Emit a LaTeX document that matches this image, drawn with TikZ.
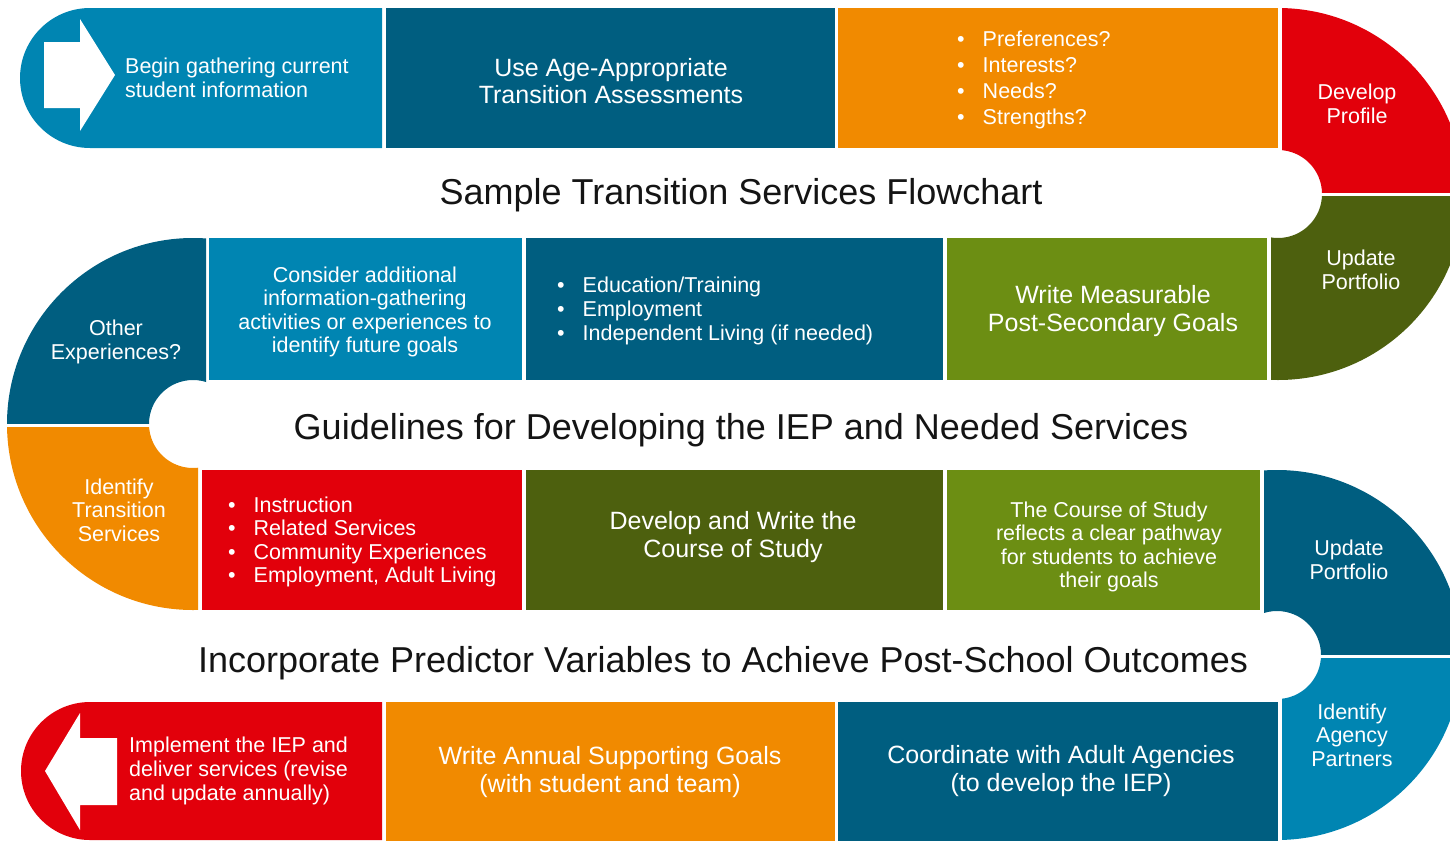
\documentclass[tikz,border=0pt]{standalone}
\usepackage{fontspec}
\setmainfont{Liberation Sans}

\definecolor{tealblue}{HTML}{0085B2}
\definecolor{navyblue}{HTML}{005E80}
\definecolor{tangerine}{HTML}{F18A00}
\definecolor{signalred}{HTML}{E2000B}
\definecolor{leafgreen}{HTML}{6C8E13}
\definecolor{olivegreen}{HTML}{4D600E}

\tikzset{
  boxtext/.style={text=white,align=center,inner sep=0pt,font=\fontsize{21.5}{23.6}\selectfont},
  bigtext/.style={boxtext,font=\fontsize{25}{27.5}\selectfont},
  listtext/.style={boxtext,align=left,anchor=west},
  heading/.style={text=black!92,inner sep=0pt,anchor=base,font=\fontsize{36}{40}\selectfont}
}

% bullet with its hanging gap
\newcommand{\bul}{\textbullet\hspace{18pt}}
% one quarter of a turning cap: colour, clip corners, centre, outer radius
\newcommand{\capquarter}[5]{%
  \begin{scope}
    \clip #2 rectangle #3;
    \fill[#1,even odd rule] #4 circle[radius=#5] #4 circle[radius=44pt];
  \end{scope}}

\begin{document}
\begin{tikzpicture}[x=1pt,y=-1pt]
\useasboundingbox (0,0) rectangle (1450,841);
\clip (0,0) rectangle (1450,841);

% first row, left to right
\fill[tealblue] (382,8) -- (90,8) arc[start angle=90,end angle=270,radius=70pt] -- (382,148) -- cycle;
\fill[navyblue] (386,8) rectangle (835,148);
\fill[tangerine] (838,8) rectangle (1278,148);
\capquarter{signalred}{(1282,0)}{(1450,192)}{(1278,194)}{186pt}
\capquarter{olivegreen}{(1271,196)}{(1450,400)}{(1278,194)}{186pt}

% second row
\capquarter{navyblue}{(0,230)}{(206,423)}{(193,424)}{186pt}
\fill[tealblue] (209,238) rectangle (522,380);
\fill[navyblue] (526,238) rectangle (943,380);
\fill[leafgreen] (947,238) rectangle (1267,380);

% third row
\capquarter{tangerine}{(0,427)}{(198,620)}{(193,424)}{186pt}
\fill[signalred] (202,470) rectangle (522,610);
\fill[olivegreen] (526,470) rectangle (943,610);
\fill[leafgreen] (947,470) rectangle (1260,610);
\capquarter{navyblue}{(1264,460)}{(1450,654)}{(1277,655)}{185pt}

% last row
\fill[signalred] (382,702) -- (90,702) arc[start angle=90,end angle=270,radius=69pt] -- (382,840) -- cycle;
\fill[tangerine] (386,702) rectangle (835,841);
\fill[navyblue] (838,702) rectangle (1278,841);
\capquarter{tealblue}{(1282,658)}{(1450,841)}{(1277,655)}{185pt}

% start and end arrows
\fill[white] (44,42) -- (80,42) -- (80,19) -- (115,75) -- (80,131) -- (80,108) -- (44,108) -- cycle;
\fill[white] (117,738) -- (80,738) -- (80,713) -- (45,771) -- (80,830) -- (80,805) -- (117,805) -- cycle;

% labels
\node[boxtext,align=left,anchor=west] (begin) at (125,78) {Begin gathering current\\student information};
\node[bigtext] (assess) at (611,81) {Use Age-Appropriate\\Transition Assessments};
\node[listtext,font=\fontsize{21.5}{26}\selectfont] (prefs) at (957,80) {\bul Preferences?\\\bul Interests?\\\bul Needs?\\\bul Strengths?};
\node[boxtext] (profile) at (1357,104) {Develop\\Profile};
\node[heading] (title1) at (741,204) {Sample Transition Services Flowchart};

\node[boxtext] (other) at (116,342) {Other\\Experiences?};
\node[boxtext] (consider) at (365,312) {Consider additional\\information-gathering\\activities or experiences to\\identify future goals};
\node[listtext] (outcomes) at (557,311) {\bul Education/Training\\\bul Employment\\\bul Independent Living (if needed)};
\node[bigtext] (goals) at (1113,311) {Write Measurable\\Post-Secondary Goals};
\node[boxtext] (portfolioA) at (1361,270) {Update\\Portfolio};
\node[heading] (title2) at (741,439) {Guidelines for Developing the IEP and Needed Services};

\node[boxtext] (services) at (119,510) {Identify\\Transition\\Services};
\node[listtext] (supports) at (228,542) {\bul Instruction\\\bul Related Services\\\bul Community Experiences\\\bul Employment, Adult Living};
\node[bigtext] (course) at (733,537) {Develop and Write the\\Course of Study};
\node[boxtext] (pathway) at (1109,547) {The Course of Study\\reflects a clear pathway\\for students to achieve\\their goals};
\node[boxtext] (portfolioB) at (1349,560) {Update\\Portfolio};
\node[heading] (title3) at (723,672) {Incorporate Predictor Variables to Achieve Post-School Outcomes};

\node[boxtext,align=left,anchor=west] (implement) at (129,771) {Implement the IEP and\\deliver services (revise\\and update annually)};
\node[bigtext] (annual) at (610,772) {Write Annual Supporting Goals\\(with student and team)};
\node[bigtext] (coordinate) at (1061,771) {Coordinate with Adult Agencies\\(to develop the IEP)};
\node[boxtext] (agencies) at (1352,735) {Identify\\Agency\\Partners};
\end{tikzpicture}
\end{document}
